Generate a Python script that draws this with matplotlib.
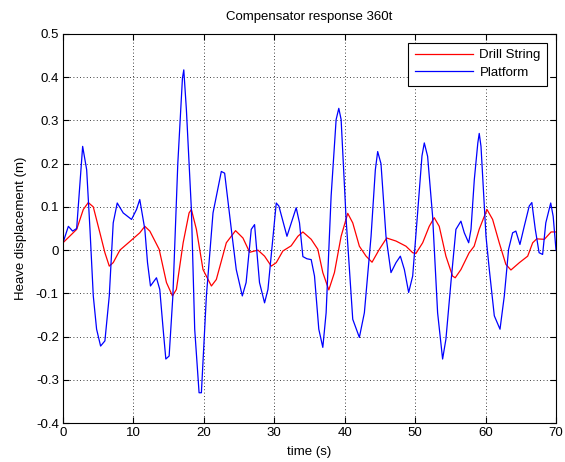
import numpy as np
import matplotlib
matplotlib.use("Agg")
import matplotlib.pyplot as plt

plt.rcParams['font.family'] = ['Liberation Sans', 'DejaVu Sans']

# platform heave
t_platform = [0.0, 0.76, 1.37, 1.94, 2.79, 3.36, 3.83, 4.3, 4.77, 5.34, 5.95, 6.57,
              7.13, 7.7, 8.55, 9.73, 10.44, 10.9, 11.62, 12.0, 12.42, 13.27, 13.74,
              14.22, 14.6, 15.07, 15.6, 16.3, 16.96, 17.15, 17.52, 18.23, 18.7, 19.32,
              19.65, 20.36, 21.3, 22.48, 22.95, 23.9, 24.6, 25.46, 26.0, 26.73, 27.2,
              27.9, 28.62, 29.1, 30.28, 30.65, 31.8, 33.11, 33.58, 34.06, 34.63, 35.24,
              35.71, 36.32, 36.89, 37.36, 38.07, 38.78, 39.16, 39.49, 40.2, 41.14,
              42.08, 42.79, 43.74, 44.35, 44.68, 45.15, 45.86, 46.57, 47.28, 47.9,
              48.47, 49.08, 49.65, 50.35, 50.97, 51.3, 51.77, 52.48, 53.19, 53.9,
              54.37, 55.08, 55.79, 56.5, 56.98, 57.6, 57.93, 58.4, 58.9, 59.1, 59.35,
              60.06, 60.53, 61.24, 62.05, 62.66, 63.27, 63.84, 64.3, 64.88, 65.49,
              66.2, 66.57, 67.06, 67.6, 68.1, 68.55, 69.25, 69.6, 70.0]
platform = [0.017, 0.055, 0.044, 0.05, 0.24, 0.186, 0.048, -0.106, -0.183, -0.222,
            -0.21, -0.106, 0.063, 0.109, 0.086, 0.071, 0.094, 0.117, 0.048, -0.029,
            -0.083, -0.064, -0.091, -0.183, -0.252, -0.245, -0.106, 0.2, 0.398, 0.417,
            0.325, 0.094, -0.183, -0.33, -0.33, -0.106, 0.086, 0.182, 0.178, 0.048,
            -0.045, -0.106, -0.075, 0.048, 0.059, -0.075, -0.122, -0.091, 0.109, 0.102,
            0.032, 0.098, 0.063, -0.015, -0.02, -0.022, -0.06, -0.183, -0.225, -0.145,
            0.125, 0.302, 0.328, 0.302, 0.071, -0.16, -0.202, -0.145, 0.032, 0.186,
            0.228, 0.2, 0.032, -0.052, -0.029, -0.014, -0.045, -0.098, -0.06, 0.086,
            0.218, 0.248, 0.217, 0.078, -0.145, -0.252, -0.206, -0.075, 0.048, 0.067,
            0.04, 0.017, 0.048, 0.163, 0.248, 0.27, 0.24, 0.032, -0.045, -0.152,
            -0.183, -0.106, 0.002, 0.04, 0.044, 0.013, 0.055, 0.102, 0.11, 0.048,
            -0.006, -0.01, 0.063, 0.109, 0.078, 0.0]

# drill string heave
t_drill = [0.0, 1.94, 2.88, 3.59, 4.3, 5.24, 5.95, 6.57, 7.13, 8.08, 9.5, 10.9, 11.62,
           12.33, 13.65, 14.69, 15.54, 16.1, 17.06, 17.9, 18.23, 18.94, 19.88, 21.07,
           21.77, 23.19, 24.5, 25.55, 26.5, 27.68, 28.62, 29.57, 30.28, 31.22, 32.4,
           33.35, 34.06, 35.24, 36.18, 36.89, 37.74, 38.54, 39.49, 40.43, 41.14, 42.08,
           43.03, 43.88, 44.92, 45.96, 47.28, 48.7, 49.65, 50.1, 51.07, 52.0, 52.71,
           53.42, 54.37, 55.31, 55.69, 56.5, 57.67, 58.38, 59.09, 60.2, 61.0, 61.94,
           62.88, 63.6, 64.8, 65.98, 66.69, 67.26, 68.35, 69.3, 70.0]
drill = [0.017, 0.048, 0.094, 0.11, 0.1, 0.04, -0.006, -0.037, -0.029, 0.0, 0.02,
         0.04, 0.055, 0.044, 0.002, -0.075, -0.106, -0.091, 0.017, 0.086, 0.094, 0.048,
         -0.045, -0.083, -0.068, 0.017, 0.045, 0.028, -0.005, 0.0, -0.014, -0.037,
         -0.029, -0.002, 0.01, 0.032, 0.042, 0.025, 0.002, -0.052, -0.092, -0.052,
         0.032, 0.085, 0.063, 0.009, -0.014, -0.028, 0.002, 0.028, 0.021, 0.009,
         -0.006, -0.008, 0.017, 0.055, 0.075, 0.055, -0.014, -0.06, -0.064, -0.045,
         -0.006, 0.009, 0.048, 0.094, 0.071, 0.017, -0.033, -0.046, -0.029, -0.014,
         0.017, 0.026, 0.025, 0.042, 0.042]

x_ticks = [0, 10, 20, 30, 40, 50, 60, 70]
y_ticks = [-0.4, -0.3, -0.2, -0.1, 0, 0.1, 0.2, 0.3, 0.4, 0.5]
y_labels = ['-0.4', '-0.3', '-0.2', '-0.1', '0', '0.1', '0.2', '0.3', '0.4', '0.5']

fs = 9.5

fig = plt.figure(figsize=(5.65, 4.62), dpi=100)
ax = fig.add_axes([63 / 565, 1 - 423 / 462, (556 - 63) / 565, (423 - 34) / 462])

ax.plot(t_drill, drill, color='red', lw=0.9, label='Drill String')
ax.plot(t_platform, platform, color='blue', lw=0.9, label='Platform')

ax.set_xlim(0, 70)
ax.set_ylim(-0.4, 0.5)
ax.set_xticks(x_ticks)
ax.set_yticks(y_ticks)
ax.set_yticklabels(y_labels)
ax.grid(True, linestyle=(0, (1, 3)), color='black', lw=0.6)
ax.tick_params(direction='in', labelsize=fs, length=4, top=True, right=True, pad=3)
for s in ax.spines.values():
    s.set_linewidth(0.8)

ax.set_title('Compensator response 360t', fontsize=fs, pad=10)
ax.set_xlabel('time (s)', fontsize=fs, labelpad=5)
ax.set_ylabel('Heave displacement (m)', fontsize=fs, labelpad=6)

leg = ax.legend(loc='upper right', fontsize=fs, fancybox=False, framealpha=1,
                edgecolor='black', borderaxespad=0.65, handlelength=4.4,
                borderpad=0.5, labelspacing=0.4, handletextpad=0.5)
leg.get_frame().set_linewidth(0.8)

fig.savefig('out.png', dpi=100, facecolor='white')
